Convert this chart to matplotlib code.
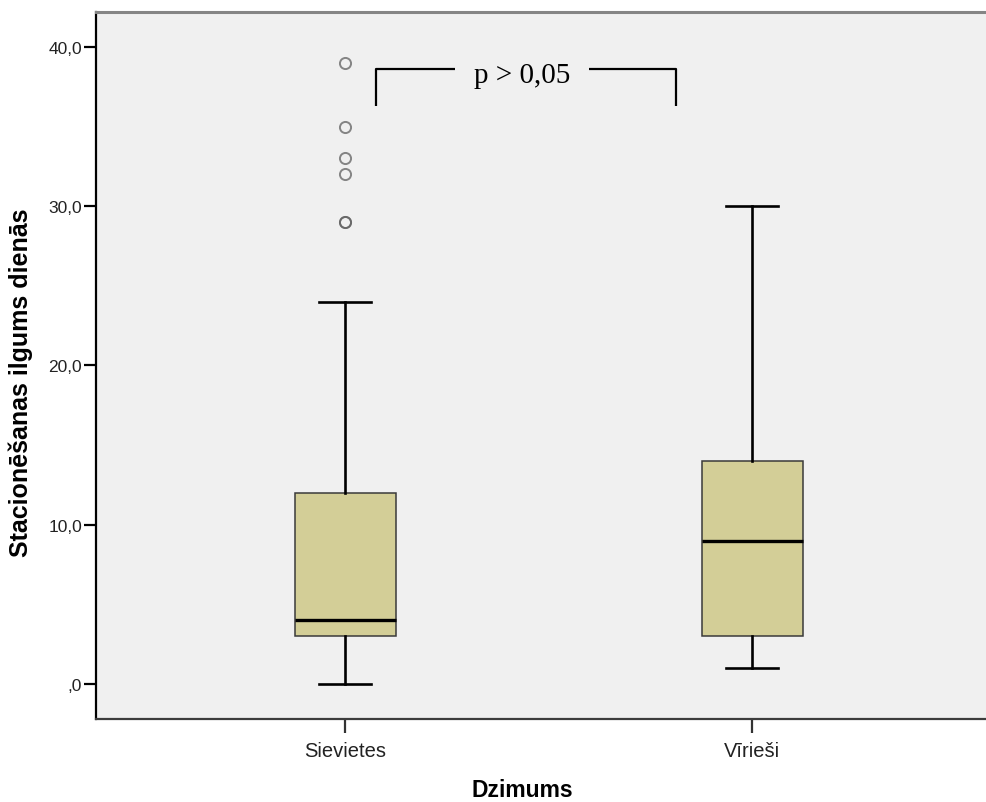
import matplotlib
matplotlib.use("Agg")
import matplotlib.pyplot as plt

# Length of hospital stay by sex (box plot summary values)
groups = ["Sievietes", "Vīrieši"]
q1 = [3, 3]
medians = [4, 9]
q3 = [12, 14]
whisker_low = [0, 1]
whisker_high = [24, 30]
outliers = [[29, 29, 32, 33, 35, 39], []]

yticks = [0, 10, 20, 30, 40]
ytick_labels = [",0", "10,0", "20,0", "30,0", "40,0"]

p_text = "p > 0,05"

fig = plt.figure(figsize=(9.87, 8.03), dpi=100, facecolor="white")
ax = fig.add_axes((0.0973, 0.1034, 0.9027, 0.8804))
ax.set_facecolor("#f0f0f0")

stats = []
for i, name in enumerate(groups):
    stats.append({
        "label": name,
        "q1": q1[i], "med": medians[i], "q3": q3[i],
        "whislo": whisker_low[i], "whishi": whisker_high[i],
        "fliers": outliers[i],
    })

positions = [1, 2]
ax.bxp(stats, positions=positions, widths=0.248, patch_artist=True,
       showfliers=True,
       boxprops=dict(facecolor="#d3ce97", edgecolor="#3a3a3a", linewidth=1.1),
       medianprops=dict(color="black", linewidth=2.4),
       whiskerprops=dict(color="black", linewidth=1.9),
       capprops=dict(color="black", linewidth=1.9),
       capwidths=0.128,
       flierprops=dict(marker="o", markersize=8, markerfacecolor="none",
                       markeredgecolor="#606060", markeredgewidth=1.4, alpha=0.75))

ax.set_xlim(0.388, 2.577)
ax.set_ylim(-2.2, 42.2)

ax.set_yticks(yticks)
ax.set_yticklabels(ytick_labels, fontsize=12.5, family="Liberation Sans", color="#222222")
ax.set_xticks(positions)
ax.set_xticklabels(groups, fontsize=14.5, family="Liberation Sans", color="#222222")
ax.tick_params(axis="y", direction="out", length=9, width=1.6, pad=1, color="black")
ax.tick_params(axis="x", direction="out", length=10, width=1.6, pad=6, color="#333333")

ax.spines["right"].set_visible(False)
ax.spines["top"].set_color("#858585")
ax.spines["top"].set_linewidth(2.2)
ax.spines["left"].set_color("black")
ax.spines["left"].set_linewidth(1.6)
ax.spines["bottom"].set_color("#3c3c3c")
ax.spines["bottom"].set_linewidth(1.6)

ax.set_ylabel("Stacionēšanas ilgums dienās", fontsize=18, fontweight="bold",
              family="Liberation Sans")
ax.yaxis.set_label_coords(-0.071, 0.477)
fig.text(0.529, 0.0075, "Dzimums", ha="center", va="baseline", fontsize=16.5,
         fontweight="bold", family="Liberation Sans")

# significance bracket between the two groups
bx0, bx1 = 1.076, 1.813
by_top, by_bot = 38.6, 36.3
gap0, gap1 = 1.27, 1.60
bracket = dict(color="black", linewidth=1.6, solid_capstyle="butt")
ax.plot([bx0, bx0, gap0], [by_bot, by_top, by_top], **bracket)
ax.plot([gap1, bx1, bx1], [by_top, by_top, by_bot], **bracket)
ax.text((gap0 + gap1) / 2, by_top - 0.35, p_text, ha="center", va="center",
        fontsize=21, family="Liberation Serif")

fig.savefig("out.png", dpi=100, facecolor="white")
